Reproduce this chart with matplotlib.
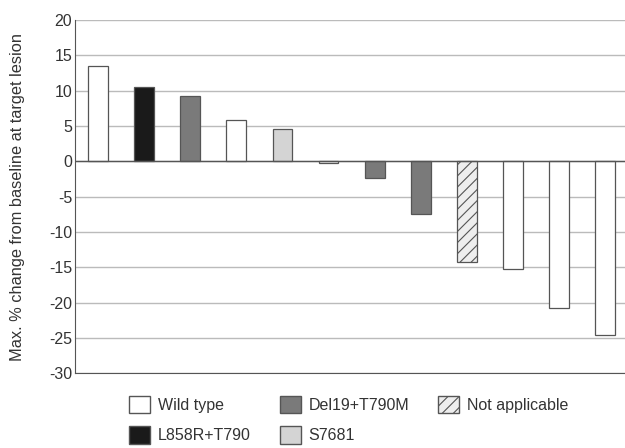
import matplotlib
matplotlib.use("Agg")
import matplotlib.pyplot as plt
from matplotlib.patches import Patch

plt.rcParams["font.family"] = ["Liberation Sans", "DejaVu Sans"]
plt.rcParams["axes.unicode_minus"] = False
plt.rcParams["hatch.color"] = "#555555"
plt.rcParams["hatch.linewidth"] = 0.8

# one bar per patient, sorted
values = [13.5, 10.5, 9.2, 5.9, 4.6, -0.2, -2.3, -7.5, -14.3, -15.3, -20.7, -24.6]
groups = ["Wild type", "L858R+T790", "Del19+T790M", "Wild type", "S7681", "Wild type",
          "Del19+T790M", "Del19+T790M", "Not applicable", "Wild type", "Wild type", "Wild type"]

colors = {"Wild type": "white", "L858R+T790": "#1a1a1a", "Del19+T790M": "#7a7a7a",
          "S7681": "#d4d4d4", "Not applicable": "#eeeeee"}
hatches = {"Not applicable": "///"}

fig = plt.figure(figsize=(6.25, 4.48), dpi=100)
ax = fig.add_axes([0.12, 0.167, 0.885, 0.788])

for i, (v, g) in enumerate(zip(values, groups)):
    ax.bar(i, v, width=0.43, color=colors[g], edgecolor="#555555", linewidth=0.9,
           hatch=hatches.get(g), zorder=3)

ax.set_xlim(-0.5, 11.5)
ax.set_ylim(-30, 20)
ax.set_yticks(range(-30, 21, 5))
ax.set_xticks([])
ax.yaxis.grid(True, color="#bbbbbb", linewidth=1.0, zorder=0)
ax.axhline(0, color="#555555", linewidth=1.0, zorder=4)
for s in ["top", "right"]:
    ax.spines[s].set_visible(False)
ax.spines["left"].set_color("#555555")
ax.spines["bottom"].set_color("#555555")
ax.tick_params(axis="y", length=0, labelsize=11.5, colors="#333333", pad=2)
ax.set_ylabel("Max. % change from baseline at target lesion", fontsize=11.8,
              color="#333333", va="center")
ax.yaxis.set_label_coords(-0.104, 0.5)

order = ["Wild type", "L858R+T790", "Del19+T790M", "S7681", "Not applicable"]
handles = [Patch(facecolor=colors[g], edgecolor="#555555", hatch=hatches.get(g), label=g)
           for g in order]
fig.legend(handles=handles, ncol=3, loc="center", bbox_to_anchor=(0.558, 0.063),
           frameon=False, fontsize=11.5, handlelength=1.3, handleheight=1.3,
           columnspacing=1.8, labelspacing=0.8, handletextpad=0.5, labelcolor="#333333")

fig.savefig("out.png", dpi=100)
